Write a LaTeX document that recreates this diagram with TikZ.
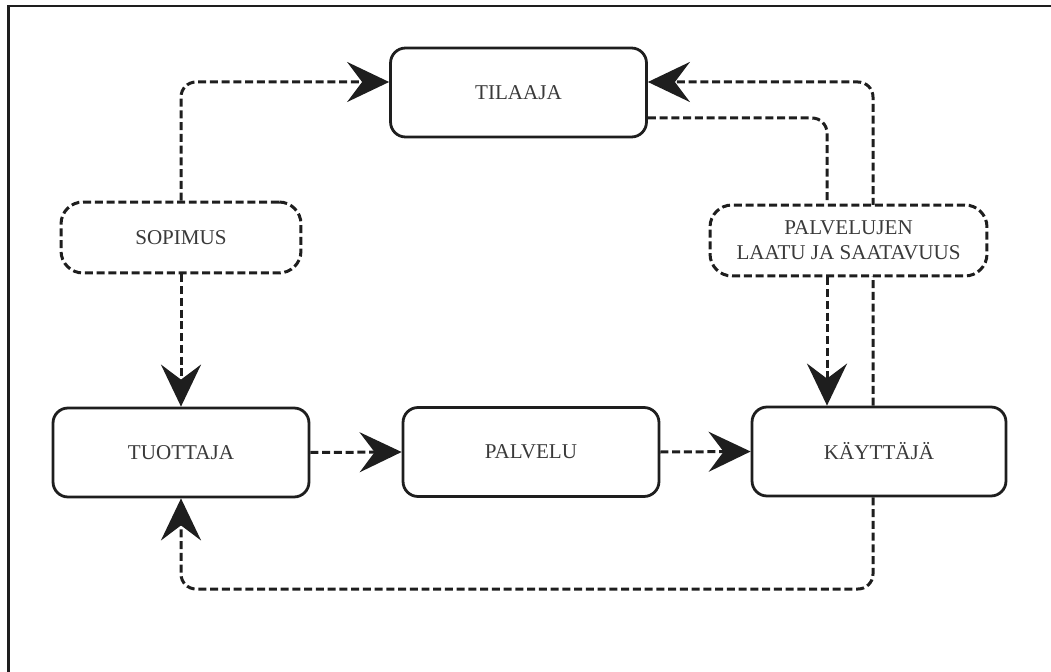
\documentclass[tikz,border=0pt]{standalone}
\usepackage{fontspec}
\setmainfont{Liberation Serif}
\usetikzlibrary{arrows.meta,backgrounds}

\definecolor{ink}{HTML}{1E1E1E}
\definecolor{txt}{HTML}{3A3A3A}

\tikzset{
  box/.style={draw=ink, line width=0.056cm, rounded corners=0.3cm, fill=white,
    minimum width=5.12cm, minimum height=1.78cm, text=txt,
    font=\fontsize{12}{14.2}\selectfont, align=center, inner sep=0pt},
  topic/.style={draw=ink, line width=0.06cm, rounded corners=0.44cm, fill=white,
    dash pattern=on 0.16cm off 0.075cm, minimum height=1.42cm, text=txt,
    font=\fontsize{12}{14.2}\selectfont, align=center, inner sep=0pt},
  dline/.style={draw=ink, line width=0.06cm, dash pattern=on 0.16cm off 0.075cm,
    rounded corners=0.3cm},
  flow/.style={dline, -{Stealth[length=0.84cm, width=0.8cm, inset=0.3cm]}},
}

\begin{document}
\begin{tikzpicture}[x=0.02cm, y=-0.02cm]
  \useasboundingbox (0,0) rectangle (1051,672);

  % frame edges
  \draw[ink, line width=0.05cm] (8.5,672) -- (8.5,6) -- (1051,6);

  % main actors
  \node[box] (til) at (518.5,92.5) {TILAAJA};
  \node[box] (tuo) at (181,452.5) {TUOTTAJA};
  \node[box] (pal) at (531,452) {PALVELU};
  \node[box, minimum width=5.08cm] (kay) at (879,451.5) {KÄYTTÄJÄ};

  % relations
  \node[topic, minimum width=4.8cm] (sop) at (181,237.5) {SOPIMUS};
  \node[topic, minimum width=5.54cm] (qual) at (848.5,240.5)
    {PALVELUJEN\\LAATU JA SAATAVUUS};

  % guide positions for the routed lines
  \coordinate (rx) at (873,0);
  \coordinate (lx) at (827,0);
  \coordinate (bot) at (0,589);

  \begin{pgfonlayer}{background}
    \draw[flow] (sop.north) |- ([yshift=0.21cm]til.west);
    \draw[flow] (sop.south) -- (tuo.north);
    \draw[flow] (tuo.east) -- (pal.west);
    \draw[flow] (pal.east) -- (kay.west);
    \draw[flow] (kay.south -| rx) |- (tuo.south |- bot) -- (tuo.south);
    \draw[flow] (kay.north -| rx) |- ([yshift=0.21cm]til.east);
    \draw[dline] ([yshift=-0.51cm]til.east) -| (qual.north -| lx);
    \draw[flow] (qual.south -| lx) -- (kay.north -| lx);
  \end{pgfonlayer}
\end{tikzpicture}
\end{document}
